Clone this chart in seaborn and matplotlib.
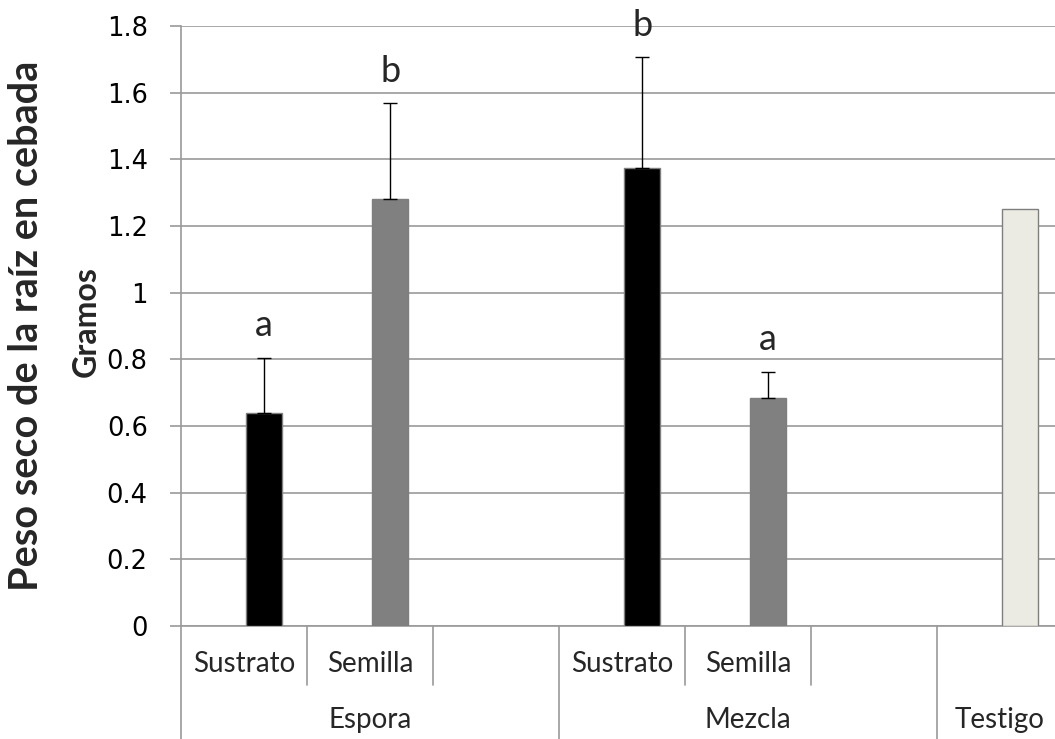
import numpy as np
import pandas as pd
import matplotlib
matplotlib.use('Agg')
import matplotlib.pyplot as plt
import seaborn as sns
from matplotlib.transforms import blended_transform_factory
from matplotlib.ticker import FuncFormatter

# ─── DATA ─────────────────────────────────────────────────────────────────────
# seven slots on the category axis, empty slots keep the Excel spacing
categorias = ['Sustrato', 'Semilla', '', 'Sustrato', 'Semilla', '', '']
tipo = ['Sustrato', 'Semilla', '', 'Sustrato', 'Semilla', '', 'Testigo']
grupos = ['Espora', 'Mezcla', 'Testigo']
grupo_centro = [1, 4, 6]          # slot under which each group name sits
peso = [0.64, 1.28, np.nan, 1.374, 0.685, np.nan, 1.25]
error = [0.164, 0.288, 0.0, 0.332, 0.077, 0.0, 0.0]
letras = ['a', 'b', '', 'b', 'a', '', '']

colores = {'Sustrato': '#000000', 'Semilla': '#808080', 'Testigo': '#EEECE1'}

df = pd.DataFrame({'categoria': categorias, 'tipo': tipo, 'peso': peso,
                   'error': error, 'letra': letras})
df['pos'] = np.arange(len(df)) + 0.16   # bars sit a bit right of slot centre
barras = df.dropna(subset=['peso'])

# ─── FIGURE ───────────────────────────────────────────────────────────────────
sns.set_theme(style='white')
plt.rcParams['font.family'] = ['DejaVu Sans']

W, H = 1055, 739
fig = plt.figure(figsize=(W / 100, H / 100), dpi=100)
ax = fig.add_axes([181 / W, 113 / H, (W - 181) / W, 600 / H])

sns.barplot(data=barras, x='pos', y='peso', hue='tipo', palette=colores,
            native_scale=True, dodge=False, width=0.285, errorbar=None,
            legend=False, ax=ax, linewidth=1, edgecolor='#7f7f7f', zorder=3)

# error bars only upwards, like the Excel original
con_error = barras[barras['error'] > 0]
ax.errorbar(con_error['pos'], con_error['peso'],
            yerr=[np.zeros(len(con_error)), con_error['error']],
            fmt='none', ecolor='black', elinewidth=1, capsize=5, capthick=1, zorder=4)

# significance letters
for _, r in barras[barras['letra'] != ''].iterrows():
    ax.text(r['pos'], r['peso'] + r['error'] + 0.065, r['letra'],
            ha='center', va='baseline', fontsize=26, family='Lato')

# ─── AXES ─────────────────────────────────────────────────────────────────────
ax.set_ylim(0, 1.8)
ax.set_xlim(-0.5, -0.5 + (W - 181) / 126)
ax.set_yticks(np.arange(0, 1.81, 0.2))
ax.yaxis.set_major_formatter(FuncFormatter(lambda v, p: f'{v:g}'))
ax.set_xticks([])
ax.set_xlabel('')
ax.set_ylabel('')
ax.yaxis.grid(True, color='#9a9a9a', linewidth=1.2, zorder=0)
ax.set_axisbelow(True)
ax.tick_params(axis='y', left=True, length=8, width=1.2, color='#9a9a9a',
               pad=16, labelsize=18.5, labelcolor='black')
for s in ['top', 'right']:
    ax.spines[s].set_visible(False)
for s in ['left', 'bottom']:
    ax.spines[s].set_color('#9a9a9a')
    ax.spines[s].set_linewidth(1.2)

# multi-level category axis drawn under the plot
trans = blended_transform_factory(ax.transData, ax.transAxes)
corto = -59 / 600
largo = -113 / 600
for k in range(len(categorias)):
    borde = k - 0.5
    baja = largo if k in (0, 3, 6) else corto
    ax.plot([borde, borde], [0, baja], transform=trans, color='#9a9a9a',
            lw=1.2, clip_on=False)
    if categorias[k]:
        ax.text(k, -38 / 600, categorias[k], transform=trans, ha='center',
                va='center', fontsize=20, family='Lato')
for g, c in zip(grupos, grupo_centro):
    ax.text(c, -94 / 600, g, transform=trans, ha='center', va='center',
            fontsize=20, family='Lato')

fig.text(27 / W, 1 - 326 / H, 'Peso seco de la raíz en cebada', rotation=90,
         ha='center', va='center', fontsize=28.5, fontweight='bold', family='Lato')
fig.text(86 / W, 1 - 322 / H, 'Gramos', rotation=90, ha='center', va='center',
         fontsize=23, fontweight='bold', family='Lato')

fig.savefig('out.png', dpi=100)
